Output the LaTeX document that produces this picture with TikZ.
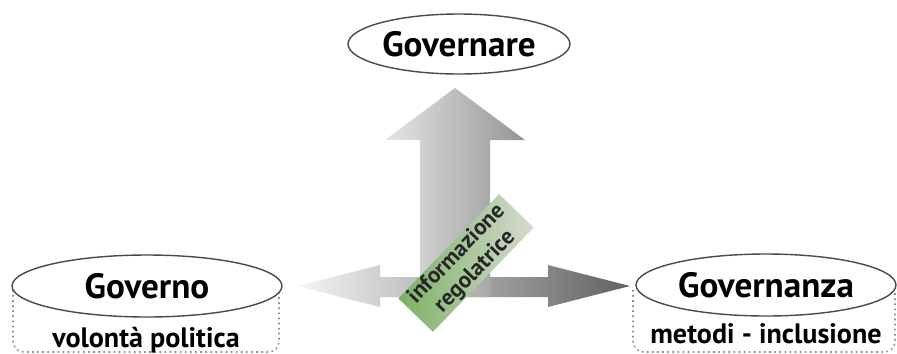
\documentclass[tikz,border=0pt]{standalone}
\usepackage{fontspec}
\setmainfont{PT Sans}
\usetikzlibrary{shapes.geometric,positioning}
\definecolor{rimgrey}{HTML}{4A4A4A}
\definecolor{dotgrey}{HTML}{8A8A8A}
\definecolor{infogreen}{HTML}{7DB064}
\definecolor{infopale}{HTML}{D5DBD0}

\tikzset{
  pole/.style={ellipse,draw=rimgrey,line width=0.8pt,fill=white,inner sep=0pt,
    font=\fontsize{20}{24}\selectfont\bfseries},
  polebase/.style={draw=dotgrey,dotted,line width=0.9pt,rounded corners=6pt},
  note/.style={anchor=base,inner sep=0pt,font=\fontsize{16}{19}\selectfont\bfseries},
  infobox/.style={rotate=46,minimum width=2.9cm,minimum height=0.96cm,inner sep=0pt,
    align=center,left color=infogreen,right color=infopale,text=black!85,
    font=\fontsize{13}{14.5}\selectfont\bfseries},
}

\begin{document}
\begin{tikzpicture}[x=0.02cm,y=-0.02cm]
    \useasboundingbox (0,0) rectangle (897,353);
    % double arrow between the two poles
    \shade[left color=black!4,right color=black!62]
      (297,286) -- (380,265) -- (380,277) -- (548,277) -- (548,265) -- (630,286)
      -- (548,307) -- (548,297) -- (380,297) -- (380,307) -- cycle;
    % upward arrow
    \shade[left color=black!10,right color=black!42]
      (420,297) -- (420,140) -- (385,140) -- (455,88) -- (525,140) -- (490,140)
      -- (490,297) -- cycle;
    % dotted bases under the ellipses
    \draw[polebase] (13,290) -- (13,352) -- (279,352) -- (279,290);
    \draw[polebase] (633,290) -- (633,352) -- (895,352) -- (895,290);
    % poles
    \node[pole,minimum width=4.44cm,minimum height=1.2cm] (governare) at (459,44) {Governare};
    \node[pole,minimum width=5.4cm,minimum height=1.24cm] (governo) at (147,286) {Governo};
    \node[pole,minimum width=5.2cm,minimum height=1.24cm] (governanza) at (766,285) {Governanza};
    \node[note] (volonta) at (146,347) {volontà politica};
    \node[note] (metodi) at (766,343) {metodi - inclusione};
    % label across the crossing
    \node[infobox] (info) at (466,263) {informazione\\regolatrice};
\end{tikzpicture}
\end{document}
